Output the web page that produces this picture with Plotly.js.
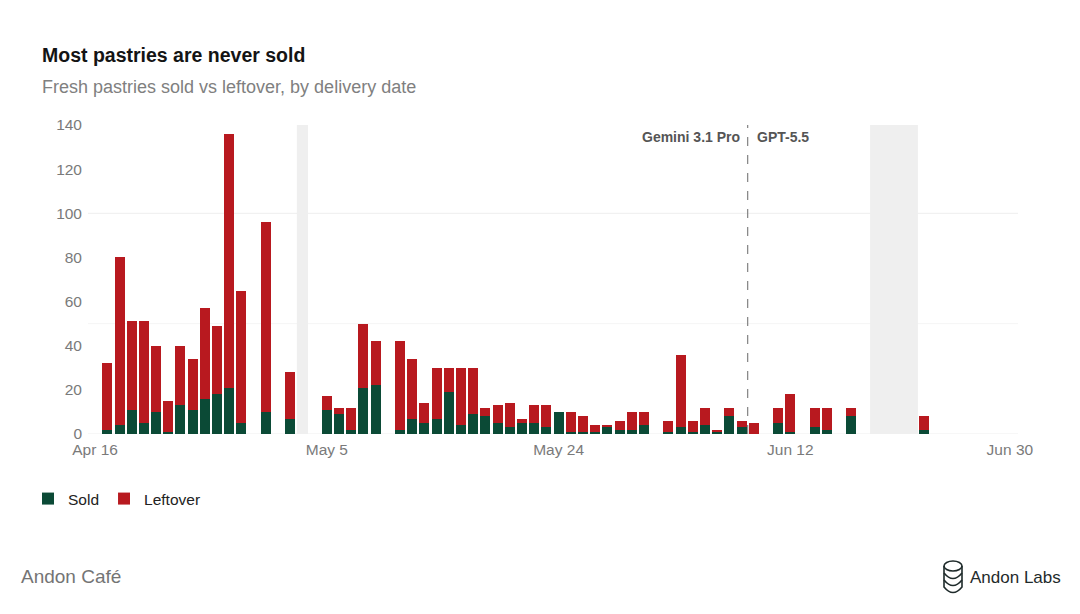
<!DOCTYPE html>
<html>
<head>
<meta charset="utf-8">
<script src="https://cdn.plot.ly/plotly-3.0.1.min.js"></script>
<style>
  html, body { margin: 0; padding: 0; background: #ffffff; }
  #chart { width: 1080px; height: 614px; }
</style>
</head>
<body>
<div id="chart"></div>
<script>
// ---- Data ----
const deliveryDates = [
  "2025-04-17","2025-04-18","2025-04-19","2025-04-20","2025-04-21","2025-04-22",
  "2025-04-23","2025-04-24","2025-04-25","2025-04-26","2025-04-27","2025-04-28",
  "2025-04-30","2025-05-02","2025-05-05","2025-05-06","2025-05-07","2025-05-08",
  "2025-05-09","2025-05-11","2025-05-12","2025-05-13","2025-05-14","2025-05-15",
  "2025-05-16","2025-05-17","2025-05-18","2025-05-19","2025-05-20","2025-05-21",
  "2025-05-22","2025-05-23","2025-05-24","2025-05-25","2025-05-26","2025-05-27",
  "2025-05-28","2025-05-29","2025-05-30","2025-05-31","2025-06-02","2025-06-03",
  "2025-06-04","2025-06-05","2025-06-06","2025-06-07","2025-06-08","2025-06-09",
  "2025-06-11","2025-06-12","2025-06-14","2025-06-15","2025-06-17","2025-06-23"
];
const soldValues = [
  2,4,11,5,10,1,
  13,11,16,18,21,5,
  10,7,11,9,2,21,
  22,2,7,5,7,19,
  4,9,8,5,3,5,
  5,3,10,1,1,1,
  3,2,2,4,1,3,
  1,4,1,8,3,0,
  5,1,3,2,8,2
];
const leftoverValues = [
  30,76,40,46,30,14,
  27,23,41,31,115,60,
  86,21,6,3,10,29,
  20,40,27,9,23,11,
  26,21,4,8,11,2,
  8,10,0,9,7,3,
  1,4,8,6,5,33,
  5,8,1,4,3,5,
  7,17,9,10,4,6
];
const tickDates = ["2025-04-16","2025-05-05","2025-05-24","2025-06-12","2025-06-30"];
const tickLabels = ["Apr 16","May 5","May 24","Jun 12","Jun 30"];
const yTicks = [0,20,40,60,80,100,120,140];
const closedDays = [["2025-05-03","2025-05-03"],["2025-06-19","2025-06-22"]];
const modelSwitch = "2025-06-08 12:00";
const modelBefore = "Gemini 3.1 Pro";
const modelAfter = "GPT-5.5";

// ---- Layout helpers ----
const W = 1080, H = 614, ML = 88, MR = 62, MT = 125, MB = 180;
const px = x => (x - ML) / (W - ML - MR);
const py = y => (H - MB - y) / (H - MT - MB);
const DAY = 86400000;
function shiftDate(s, hours) {
  const d = new Date(s.replace(" ", "T") + (s.length === 10 ? "T00:00:00Z" : ":00Z"));
  const t = new Date(d.getTime() + hours * 3600000);
  return t.toISOString().slice(0, 19).replace("T", " ");
}

const GREEN = "#0b4a36";
const RED = "#b8191f";
const FONT = "Liberation Sans, Arial, sans-serif";

const traces = [
  {
    type: "bar", name: "Sold", x: deliveryDates, y: soldValues,
    marker: { color: GREEN, line: { width: 0 } }, width: 0.82 * DAY
  },
  {
    type: "bar", name: "Leftover", x: deliveryDates, y: leftoverValues,
    marker: { color: RED, line: { width: 0 } }, width: 0.82 * DAY
  }
];

const shapes = [];
// closed-day bands
closedDays.forEach(([a, b]) => {
  shapes.push({
    type: "rect", xref: "x", yref: "y", layer: "below",
    x0: shiftDate(a, -11), x1: shiftDate(b, 11), y0: 0, y1: 140,
    fillcolor: "#efefef", line: { width: 0 }
  });
});
// light gridlines
[0, 50, 100].forEach((v, i) => {
  shapes.push({
    type: "line", xref: "paper", yref: "y", layer: "below",
    x0: 0, x1: 1, y0: v, y1: v,
    line: { color: i === 1 ? "#f5f5f5" : "#eeeeee", width: 1 }
  });
});
// model switch line
shapes.push({
  type: "line", xref: "x", yref: "paper", x0: modelSwitch, x1: modelSwitch, y0: 0, y1: 1,
  line: { color: "#8a8a8a", width: 1.3, dash: "dash" }
});
// logo (stacked coins)
const lx0 = 944, lx1 = 962, lc = "#1f2b2b";
shapes.push({
  type: "circle", xref: "paper", yref: "paper",
  x0: px(lx0), x1: px(lx1), y0: py(561), y1: py(571),
  line: { color: lc, width: 1.6 }
});
let side = `M ${px(lx0)},${py(566)} L ${px(lx0)},${py(587)} Q ${px(953)},${py(598)} ${px(lx1)},${py(587)} L ${px(lx1)},${py(566)}`;
shapes.push({ type: "path", xref: "paper", yref: "paper", path: side, line: { color: lc, width: 1.6 } });
[573, 580].forEach(yy => {
  shapes.push({
    type: "path", xref: "paper", yref: "paper",
    path: `M ${px(lx0)},${py(yy)} Q ${px(953)},${py(yy + 11)} ${px(lx1)},${py(yy)}`,
    line: { color: lc, width: 1.6 }
  });
});

const annotations = [
  {
    text: "<b>Most pastries are never sold</b>", xref: "paper", yref: "paper",
    x: px(40), y: py(55), xanchor: "left", yanchor: "middle", showarrow: false,
    font: { family: FONT, size: 19.5, color: "#141414" }
  },
  {
    text: "Fresh pastries sold vs leftover, by delivery date", xref: "paper", yref: "paper",
    x: px(40), y: py(87), xanchor: "left", yanchor: "middle", showarrow: false,
    font: { family: FONT, size: 18, color: "#808080" }
  },
  {
    text: "<b>" + modelBefore + "</b>", xref: "x", yref: "paper", x: modelSwitch, y: py(137),
    xanchor: "right", yanchor: "middle", xshift: -6, showarrow: false,
    font: { family: FONT, size: 14, color: "#555555" }
  },
  {
    text: "<b>" + modelAfter + "</b>", xref: "x", yref: "paper", x: modelSwitch, y: py(137),
    xanchor: "left", yanchor: "middle", xshift: 7, showarrow: false,
    font: { family: FONT, size: 14, color: "#555555" }
  },
  {
    text: "Andon Café", xref: "paper", yref: "paper", x: px(19), y: py(576),
    xanchor: "left", yanchor: "middle", showarrow: false,
    font: { family: FONT, size: 19, color: "#747474" }
  },
  {
    text: "Andon Labs", xref: "paper", yref: "paper", x: px(968), y: py(577),
    xanchor: "left", yanchor: "middle", showarrow: false,
    font: { family: FONT, size: 17, color: "#1f2b2b" }
  }
];

const layout = {
  width: W, height: H,
  margin: { l: ML, r: MR, t: MT, b: MB, pad: 0 },
  paper_bgcolor: "#ffffff", plot_bgcolor: "#ffffff",
  barmode: "stack", bargap: 0,
  showlegend: true,
  legend: {
    orientation: "h", x: px(28), y: py(482), xanchor: "left", yanchor: "top",
    font: { family: FONT, size: 15.5, color: "#222222" },
    itemwidth: 30, traceorder: "normal", itemclick: false
  },
  font: { family: FONT },
  xaxis: {
    type: "date",
    range: [shiftDate("2025-04-16", -14), shiftDate("2025-06-30", 16)],
    tickmode: "array", tickvals: tickDates, ticktext: tickLabels,
    showgrid: false, zeroline: false, showline: false, ticks: "",
    tickfont: { size: 15.5, color: "#7a7a7a" }, ticklabelstandoff: 4
  },
  yaxis: {
    range: [0, 140], tickmode: "array", tickvals: yTicks,
    showgrid: false, zeroline: false, showline: false, ticks: "",
    tickfont: { size: 15.5, color: "#7a7a7a" }, ticklabelstandoff: 5
  },
  shapes: shapes,
  annotations: annotations
};

Plotly.newPlot("chart", traces, layout, { displayModeBar: false, staticPlot: true });
</script>
</body>
</html>
